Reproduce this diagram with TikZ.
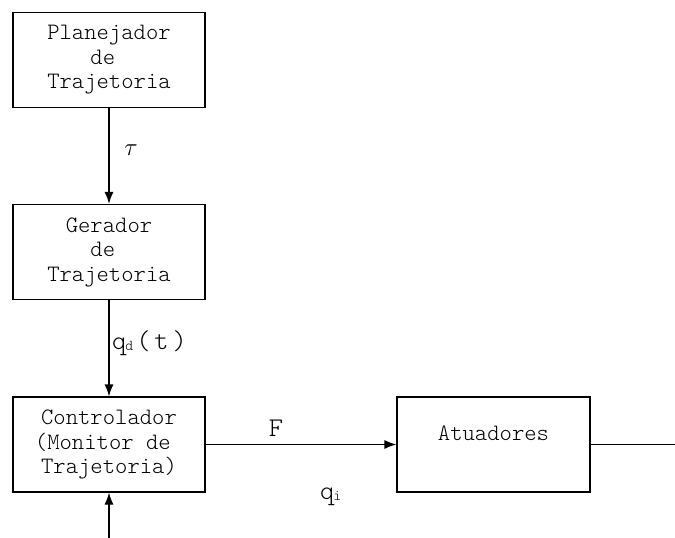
\documentclass[tikz,border=0pt]{standalone}
\usepackage{fontspec}
\setmonofont{Latin Modern Mono Light}
\usetikzlibrary{arrows.meta}
\tikzset{
  blk/.style={draw, line width=1.2pt, minimum width=192pt, minimum height=95pt,
    align=center, inner sep=0pt, font=\ttfamily\fontsize{23.5}{24.5}\selectfont},
  arr/.style={line width=1.2pt, -{Latex[length=12pt,width=9pt]}},
  wire/.style={line width=1.2pt},
  lbl/.style={inner sep=0pt, font=\ttfamily\fontsize{27}{28}\selectfont}
}
\begin{document}
\begin{tikzpicture}[x=1pt,y=-1pt]
\useasboundingbox (0,0) rectangle (675,538);
\node[blk] (plan) at (109,60) {Planejador\\de\hphantom{x}\\Trajetoria};
\node[blk] (ger) at (109,252) {Gerador\\de\hphantom{x}\\Trajetoria};
\node[blk] (ctrl) at (109,444.5) {Controlador\\(Monitor de\hphantom{x}\\Trajetoria)};
\node[blk, minimum width=193pt] (atu) at (493.5,444.5) {Atuadores\\[-2pt]};
\coordinate (out) at (675,444.5);
\coordinate (fb) at (109,538);
\draw[arr] (plan.south) -- (ger.north);
\draw[arr] (ger.south) -- (ctrl.north);
\draw[arr] (ctrl.east) -- (atu.west);
\draw[wire] (atu.east) -- (out);
\draw[arr] (fb) -- (ctrl.south);
\node[lbl] (tau) at (131,150) {\fontsize{27}{28}\selectfont$\tau$};
\node[lbl, anchor=west] (qd) at (112,343) {q\kern-1pt\raisebox{-1pt}{\fontsize{15}{15}\selectfont d}\kern3pt(\kern4pt t\kern4pt)};
\node[lbl] (F) at (276,428) {F};
\node[lbl, anchor=west] (qi) at (320,497) {q\kern-1pt\raisebox{-1pt}{\fontsize{15}{15}\selectfont i}};
\end{tikzpicture}
\end{document}
